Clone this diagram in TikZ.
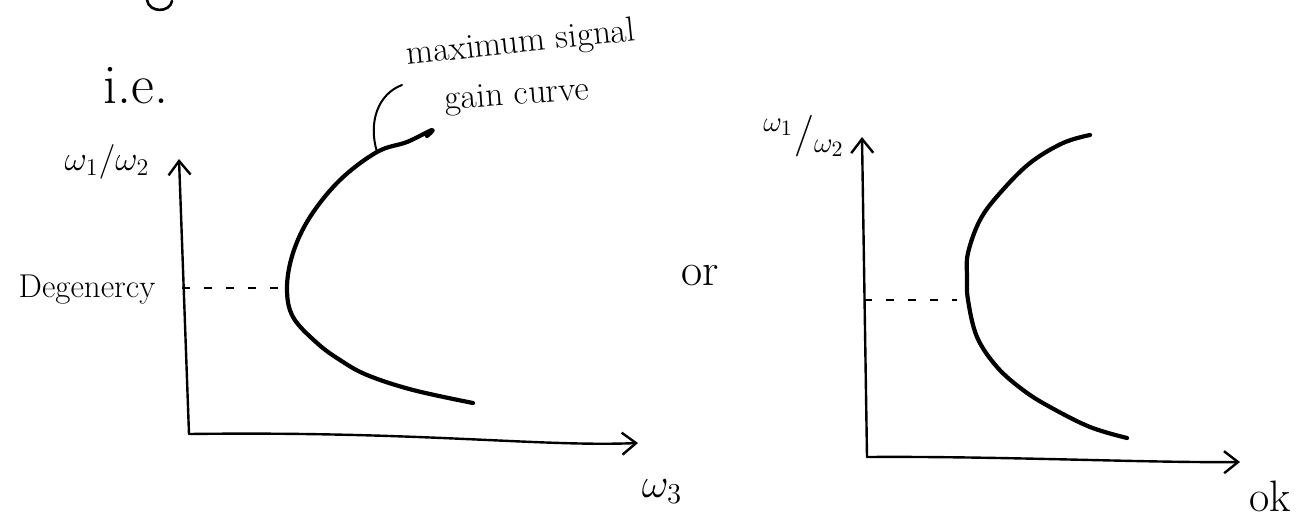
\documentclass[tikz,border=0pt]{standalone}
\usepackage{amsmath}
\usetikzlibrary{arrows.meta}

\begin{document}
\begin{tikzpicture}[
    x=0.5pt, y=-0.5pt,
    hand/.style={inner sep=0pt, font=\fontsize{17.5}{20}\selectfont},
    big/.style={inner sep=0pt, font=\fontsize{23}{26}\selectfont},
    axis/.style={line width=1.2pt, line cap=round, -{Straight Barb[length=7pt,width=11pt]}},
    gaincurve/.style={line width=2.1pt, line cap=round, line join=round},
    guide/.style={line width=0.9pt, dash pattern=on 4pt off 7pt},
    leader/.style={line width=1pt, line cap=round}
  ]
    \useasboundingbox (0,0) rectangle (1305,520);

    \draw[line width=1.3pt, line cap=round] (147,0) .. controls (149,13) and (170,13) .. (172,1);

    \node[big, font=\fontsize{28}{30}\selectfont, anchor=base] (ie) at (136,103) {i.e.};
    \node[hand, anchor=base] (ratioL) at (107,170) {$\omega_1/\omega_2$};
    \node[hand, font=\fontsize{16.5}{19}\selectfont, anchor=base] (degen) at (87,297) {Degenercy};
    \node[hand, rotate=6] (maxlbl) at (521,44) {maximum signal};
    \node[hand, rotate=4] (gainlbl) at (517,97) {gain curve};
    \node[big, font=\fontsize{22}{24}\selectfont, anchor=base] (wthree) at (662,497) {$\omega_3$};
    \node[big, anchor=base] (orlbl) at (700,285) {or};
    \node[big, font=\fontsize{22}{24}\selectfont, anchor=base] (oklbl) at (1270,511) {ok};
    \node[hand, font=\fontsize{22}{24}\selectfont] (ratioR) at (804,136) {${}^{\omega_1}/{}_{\omega_2}$};

    \coordinate (oL) at (189,434);
    \coordinate (yL) at (179,159);
    \coordinate (xL) at (638,443);
    \coordinate (oR) at (867,457);
    \coordinate (yR) at (862,137);
    \coordinate (xR) at (1240,462);
    \coordinate (degL) at (182,288);
    \coordinate (degLend) at (286,288);
    \coordinate (degR) at (864,300);
    \coordinate (degRend) at (957,300);

    \draw[axis] (oL) -- (yL);
    \draw[axis] (oL) .. controls (420,431) and (540,447) .. (xL);
    \draw[axis] (oR) -- (yR);
    \draw[axis] (oR) .. controls (1000,456) and (1150,463) .. (xR);

    \draw[guide] (degL) -- (degLend);
    \draw[guide] (degR) -- (degRend);

    \draw[gaincurve] plot[smooth, tension=0.6] coordinates {(473,403) (413,390) (367,375) (340,360) (317,343) (293,317) (287,288) (293,253) (310,217) (340,180) (377,152) (407,142) (432,130) (427,136)};
    \draw[leader] (377,152) .. controls (368,122) and (378,94) .. (402,85);

    \draw[gaincurve] plot[smooth, tension=0.6] coordinates {(1127,438) (1090,427) (1050,407) (1023,390) (997,367) (977,337) (968,300) (967,277) (968,253) (980,220) (1000,193) (1030,163) (1063,143) (1090,135)};
  \end{tikzpicture}
\end{document}
